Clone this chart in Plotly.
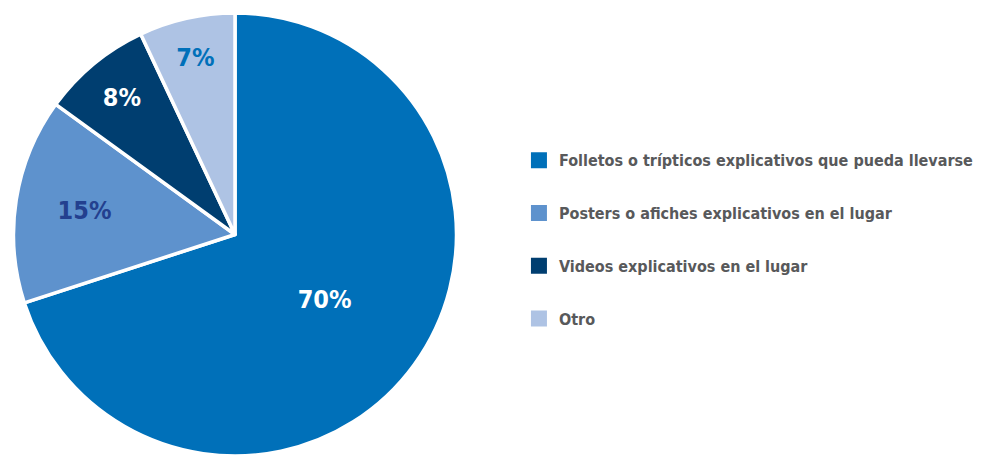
import plotly.graph_objects as go

labels = [
    "Folletos o trípticos explicativos que pueda llevarse",
    "Posters o afiches explicativos en el lugar",
    "Videos explicativos en el lugar",
    "Otro",
]
values = [70, 15, 8, 7]
colors = ["#0070B9", "#5E92CD", "#003E70", "#AEC3E4"]
text_colors = ["#FFFFFF", "#23408F", "#FFFFFF", "#0070B9"]

FONT = "DejaVu Sans Condensed, Liberation Sans Narrow, Arial Narrow, sans-serif"

fig = go.Figure()
fig.add_trace(go.Pie(
    labels=labels,
    values=values,
    sort=False,
    direction="clockwise",
    rotation=0,
    marker=dict(colors=colors, line=dict(color="#FFFFFF", width=3.5)),
    texttemplate="%{value}%",
    textposition="inside",
    insidetextorientation="horizontal",
    textfont=dict(family=FONT, size=25, color=text_colors, weight="bold"),
    domain=dict(x=[0, 470 / 981], y=[0, 1]),
    showlegend=False,
    hoverinfo="label+percent",
))

for lab, col in zip(labels, colors):
    fig.add_trace(go.Scatter(
        x=[None], y=[None], mode="markers", name=lab,
        legendgroup=lab,
        marker=dict(symbol="square", size=18, color=col),
        hoverinfo="skip",
    ))

fig.update_layout(
    width=981, height=456,
    margin=dict(l=0, r=0, t=13, b=0, autoexpand=False),
    paper_bgcolor="#FFFFFF",
    plot_bgcolor="#FFFFFF",
    xaxis=dict(visible=False),
    yaxis=dict(visible=False),
    showlegend=True,
    legend=dict(
        x=0.529, y=0.488, xanchor="left", yanchor="middle",
        font=dict(family=FONT, size=16, color="#58595B", weight="bold"),
        tracegroupgap=29,
        traceorder="grouped",
        itemclick=False, itemdoubleclick=False,
    ),
)

fig.write_html("out.html")
